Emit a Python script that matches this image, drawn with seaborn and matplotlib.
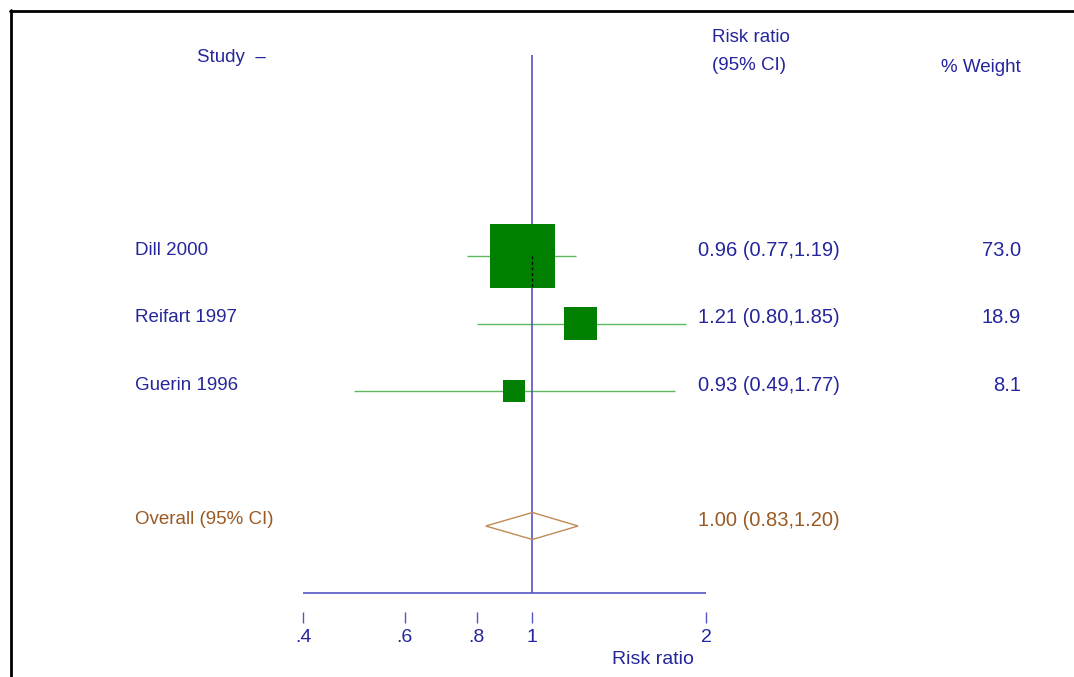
import numpy as np
import pandas as pd
import matplotlib
matplotlib.use("Agg")
import matplotlib.pyplot as plt
import seaborn as sns
from matplotlib.transforms import blended_transform_factory, ScaledTranslation
from matplotlib.lines import Line2D
from matplotlib.ticker import NullLocator, FixedLocator, FixedFormatter

# ---- data ----
studies = ["Dill 2000", "Reifart 1997", "Guerin 1996"]
rr = [0.96, 1.21, 0.93]
ci_lo = [0.77, 0.80, 0.49]
ci_hi = [1.19, 1.85, 1.77]
weight = [73.0, 18.9, 8.1]
overall_label = "Overall (95% CI)"
overall = [1.00, 0.83, 1.20]   # estimate, lower, upper
tick_vals = [0.4, 0.6, 0.8, 1, 2]
tick_labels = [".4", ".6", ".8", "1", "2"]

# ---- style ----
sns.set_style("white")
plt.rcParams['font.family'] = ['Liberation Sans', 'DejaVu Sans']
NAVY = "#25259c"
BLUE = "#5555c4"
BROWN = "#9a5a22"
DIAMOND = "#c08a55"
GREEN = "#007f00"
LGREEN = "#5cb85c"
FS_TXT = 13.5
FS_NUM = 14.5

W, H = 1074, 677
ROW_PX = 67.5
fig = plt.figure(figsize=(W / 100, H / 100), dpi=100)
ax = fig.add_axes([303 / W, 65 / H, 403 / W, 612 / H])
ax.set_xscale('log')

df = pd.DataFrame(dict(study=studies, rr=rr, lo=ci_lo, hi=ci_hi, w=weight,
                       row=np.arange(len(studies))))
overall_row = len(studies) + 1
axis_row = 4.993
box_s = np.array(weight) * 30          # marker area (pt^2), proportional to weight

# confidence intervals
ax.hlines(df["row"], df["lo"], df["hi"], color=LGREEN, lw=1, zorder=2)
# null line
ax.vlines(1, -2.978, axis_row, color=BLUE, lw=1.2, zorder=2.5)
# boxes (area ~ weight)
sns.scatterplot(data=df, x="rr", y="row", marker="s", s=box_s,
                color=GREEN, linewidth=0, ax=ax, legend=False, zorder=3)
# overall estimate line (visible through the largest box)
est, lo, hi = overall
half_box = np.sqrt(box_s.max()) * 100 / 72 / 2 / ROW_PX
ax.vlines(est, 0, half_box, color="black", lw=1, linestyles=(0, (2, 2)), zorder=3.5)
# overall diamond
h = 0.2
ax.fill([lo, est, hi, est, lo], [overall_row, overall_row - h, overall_row,
        overall_row + h, overall_row], fill=False, edgecolor=DIAMOND, lw=1, zorder=3)
# horizontal axis line
ax.hlines(axis_row, tick_vals[0], tick_vals[-1], color=BLUE, lw=1.2, zorder=4)

ax.set_xlim(tick_vals[0], tick_vals[-1])
ax.set_ylim((612 - 256) / ROW_PX, -256 / ROW_PX)
ax.xaxis.set_major_locator(FixedLocator(tick_vals))
ax.xaxis.set_major_formatter(FixedFormatter(tick_labels))
ax.xaxis.set_minor_locator(NullLocator())
ax.set_yticks([])
ax.tick_params(axis='x', bottom=True, direction='out', length=8, width=1,
               color=BLUE, labelcolor=NAVY, labelsize=14, pad=4)
for s in ax.spines.values():
    s.set_visible(False)
ax.set_ylabel("")
ax.set_xlabel("Risk ratio", color=NAVY, fontsize=14)
ax.xaxis.set_label_coords((653 - 303) / 403, -(659 - 612) / 612)
ax.xaxis.label.set_verticalalignment('center')
ax.patch.set_alpha(0)

# ---- text columns ----
up = ScaledTranslation(0, 6 / 100, fig.dpi_scale_trans)
tr = blended_transform_factory(fig.transFigure, ax.transData) + up
for i, r in df.iterrows():
    fig.text(135 / W, r["row"], r["study"], transform=tr, color=NAVY, fontsize=FS_TXT, va='center', ha='left')
    fig.text(698 / W, r["row"], f"{r['rr']:.2f} ({r['lo']:.2f},{r['hi']:.2f})",
             transform=tr, color=NAVY, fontsize=FS_NUM, va='center', ha='left')
    fig.text(1021 / W, r["row"], f"{r['w']:.1f}", transform=tr, color=NAVY,
             fontsize=FS_NUM, va='center', ha='right')
fig.text(135 / W, overall_row, overall_label, transform=tr, color=BROWN, fontsize=FS_TXT, va='center')
fig.text(698 / W, overall_row, f"{est:.2f} ({lo:.2f},{hi:.2f})", transform=tr,
         color=BROWN, fontsize=FS_NUM, va='center')

# headers
fig.text(197 / W, 1 - 57 / H, "Study  \u2013", color=NAVY, fontsize=FS_TXT, va='center')
fig.text(712 / W, 1 - 37 / H, "Risk ratio", color=NAVY, fontsize=FS_TXT, va='center')
fig.text(712 / W, 1 - 66 / H, "(95% CI)", color=NAVY, fontsize=FS_TXT, va='center')
fig.text(1021 / W, 1 - 67 / H, "% Weight", color=NAVY, fontsize=FS_TXT, va='center', ha='right')

# frame (top and left edges)
fig.add_artist(Line2D([10 / W, 1], [1 - 11 / H, 1 - 11 / H], transform=fig.transFigure, color='black', lw=2))
fig.add_artist(Line2D([11 / W, 11 / W], [0, 1 - 10 / H], transform=fig.transFigure, color='black', lw=2))

fig.savefig("out.png", dpi=100)
